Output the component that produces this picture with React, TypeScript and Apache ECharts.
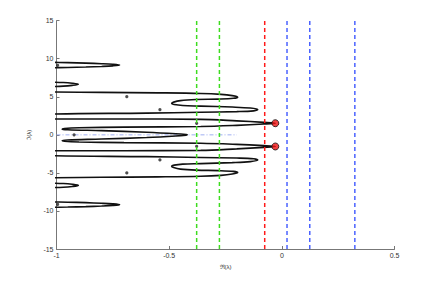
import React, { useEffect, useRef } from "react";
import * as echarts from "echarts";

const xTicks = [-1, -0.5, 0, 0.5];
const yTicks = [-15, -10, -5, 0, 5, 10, 15];

const lobeOuterTop: number[][] = [
  [-1.05, 9.54], [-0.95, 9.49], [-0.87, 9.43], [-0.8, 9.35], [-0.75, 9.27], [-0.72, 9.17],
  [-0.75, 9.07], [-0.8, 8.99], [-0.87, 8.91], [-0.95, 8.85], [-1.05, 8.8],
];
const lobeInnerTop: number[][] = [
  [-1.05, 6.95], [-0.97, 6.88], [-0.93, 6.78], [-0.903, 6.64], [-0.93, 6.5], [-0.97, 6.4], [-1.05, 6.33],
];
const lobeInnerBottom: number[][] = [
  [-1.05, -6.33], [-0.97, -6.4], [-0.93, -6.5], [-0.903, -6.64], [-0.93, -6.78], [-0.97, -6.88], [-1.05, -6.95],
];
const lobeOuterBottom: number[][] = [
  [-1.05, -8.8], [-0.95, -8.85], [-0.87, -8.91], [-0.8, -8.99], [-0.75, -9.07], [-0.72, -9.17],
  [-0.75, -9.27], [-0.8, -9.35], [-0.87, -9.43], [-0.95, -9.49], [-1.05, -9.54],
];

const mainCurve: number[][] = [
  [-1.05, 5.64], [-0.8, 5.58], [-0.55, 5.52], [-0.36, 5.44], [-0.27, 5.32], [-0.22, 5.15], [-0.196, 4.95],
  [-0.215, 4.8], [-0.28, 4.7], [-0.38, 4.64], [-0.45, 4.5], [-0.48, 4.3], [-0.489, 4.12], [-0.478, 3.98],
  [-0.44, 3.85], [-0.36, 3.78], [-0.22, 3.65], [-0.14, 3.52], [-0.107, 3.32], [-0.125, 3.15], [-0.2, 3.05],
  [-0.36, 2.97], [-0.6, 2.86], [-1.05, 2.72], [-1.2, 2.4], [-1.05, 2.08], [-0.7, 2.08], [-0.36, 2.04],
  [-0.2, 1.84], [-0.08, 1.64], [-0.029, 1.53], [-0.08, 1.42], [-0.2, 1.25], [-0.36, 1.1], [-0.7, 1.02],
  [-0.9, 0.93], [-0.965, 0.84], [-0.975, 0.75], [-0.95, 0.67], [-0.8, 0.55], [-0.6, 0.35], [-0.47, 0.15],
  [-0.425, 0.04], [-0.42, 0],
  [-0.425, -0.04], [-0.47, -0.15], [-0.6, -0.35], [-0.8, -0.55], [-0.95, -0.67], [-0.975, -0.75],
  [-0.965, -0.84], [-0.9, -0.93], [-0.7, -1.02], [-0.36, -1.1], [-0.2, -1.25], [-0.08, -1.42],
  [-0.029, -1.53], [-0.08, -1.64], [-0.2, -1.84], [-0.36, -2.04], [-0.7, -2.08], [-1.05, -2.08],
  [-1.2, -2.4], [-1.05, -2.72], [-0.6, -2.86], [-0.36, -2.97], [-0.2, -3.05], [-0.125, -3.15],
  [-0.107, -3.32], [-0.14, -3.52], [-0.22, -3.65], [-0.36, -3.78], [-0.44, -3.85], [-0.478, -3.98],
  [-0.489, -4.12], [-0.48, -4.3], [-0.45, -4.5], [-0.38, -4.64], [-0.28, -4.7], [-0.215, -4.8],
  [-0.196, -4.95], [-0.22, -5.15], [-0.27, -5.32], [-0.36, -5.44], [-0.55, -5.52], [-0.8, -5.58], [-1.05, -5.64],
];

const asterisks: number[][] = [
  [-0.995, 9.14], [-0.688, 5.01], [-0.541, 3.3], [-0.378, 1.51], [-0.922, 0],
  [-0.378, -1.51], [-0.541, -3.3], [-0.688, -5.01], [-0.995, -9.14],
];
const redPoints: number[][] = [[-0.029, 1.53], [-0.029, -1.53]];

const greenLines = [-0.378, -0.277];
const redLines = [-0.076];
const blueLines = [0.023, 0.124, 0.324];
const zeroLine: number[][] = [[-1, 0], [-0.2, 0]];

export default function App() {
  const ref = useRef<HTMLDivElement>(null);
  useEffect(() => {
    if (!ref.current) return;
    const chart = echarts.init(ref.current, undefined, { renderer: "svg" });
    const font = "Liberation Sans";
    const curveSeries = (data: number[][]) => ({
      type: "line",
      data,
      smooth: 0.35,
      symbol: "none",
      clip: true,
      lineStyle: { color: "#111", width: 1.6 },
      z: 3,
    });
    const vline = (x: number, color: string) => ({
      type: "line",
      data: [[x, -15], [x, 15]],
      symbol: "none",
      lineStyle: { color, width: 1.5, type: [4, 3] },
      z: 4,
    });
    const axisCommon = {
      nameLocation: "middle",
      nameTextStyle: { fontSize: 6, color: "#333", fontFamily: font },
      axisLine: { onZero: false, lineStyle: { color: "#777", width: 1 } },
      axisTick: { inside: true, length: 3, lineStyle: { color: "#777" } },
      axisLabel: { fontSize: 7, color: "#333", fontFamily: font, margin: 3 },
      splitLine: { show: false },
    };
    chart.setOption({
      animation: false,
      grid: { left: 56.5, right: 41.5, top: 20.7, bottom: 32 },
      xAxis: {
        type: "value",
        min: xTicks[0],
        max: xTicks[xTicks.length - 1],
        interval: 0.5,
        name: "ℜ(λ)",
        nameGap: 12,
        ...axisCommon,
      },
      yAxis: {
        type: "value",
        min: yTicks[0],
        max: yTicks[yTicks.length - 1],
        interval: 5,
        name: "ℑ(λ)",
        nameGap: 19,
        ...axisCommon,
      },
      series: [
        curveSeries(lobeOuterTop),
        curveSeries(lobeInnerTop),
        curveSeries(mainCurve),
        curveSeries(lobeInnerBottom),
        curveSeries(lobeOuterBottom),
        {
          type: "line",
          data: zeroLine,
          symbol: "none",
          lineStyle: { color: "#8899ee", width: 0.8, type: [4, 2, 1, 2] },
          z: 2,
        },
        {
          type: "scatter",
          data: asterisks,
          symbol: "circle",
          symbolSize: 3.2,
          itemStyle: { color: "#222" },
          z: 3,
        },
        ...greenLines.map((x) => vline(x, "#3ddc1f")),
        ...redLines.map((x) => vline(x, "#ff1a1a")),
        ...blueLines.map((x) => vline(x, "#4a62ff")),
        {
          type: "scatter",
          data: redPoints,
          symbol: "circle",
          symbolSize: 7,
          itemStyle: { color: "#ee1111", borderColor: "#111", borderWidth: 1 },
          z: 6,
        },
      ],
    });
    return () => chart.dispose();
  }, []);
  return (
    <div
      ref={ref}
      style={{ position: "fixed", left: 0, top: 0, width: 436, height: 281, background: "#fff" }}
    />
  );
}
